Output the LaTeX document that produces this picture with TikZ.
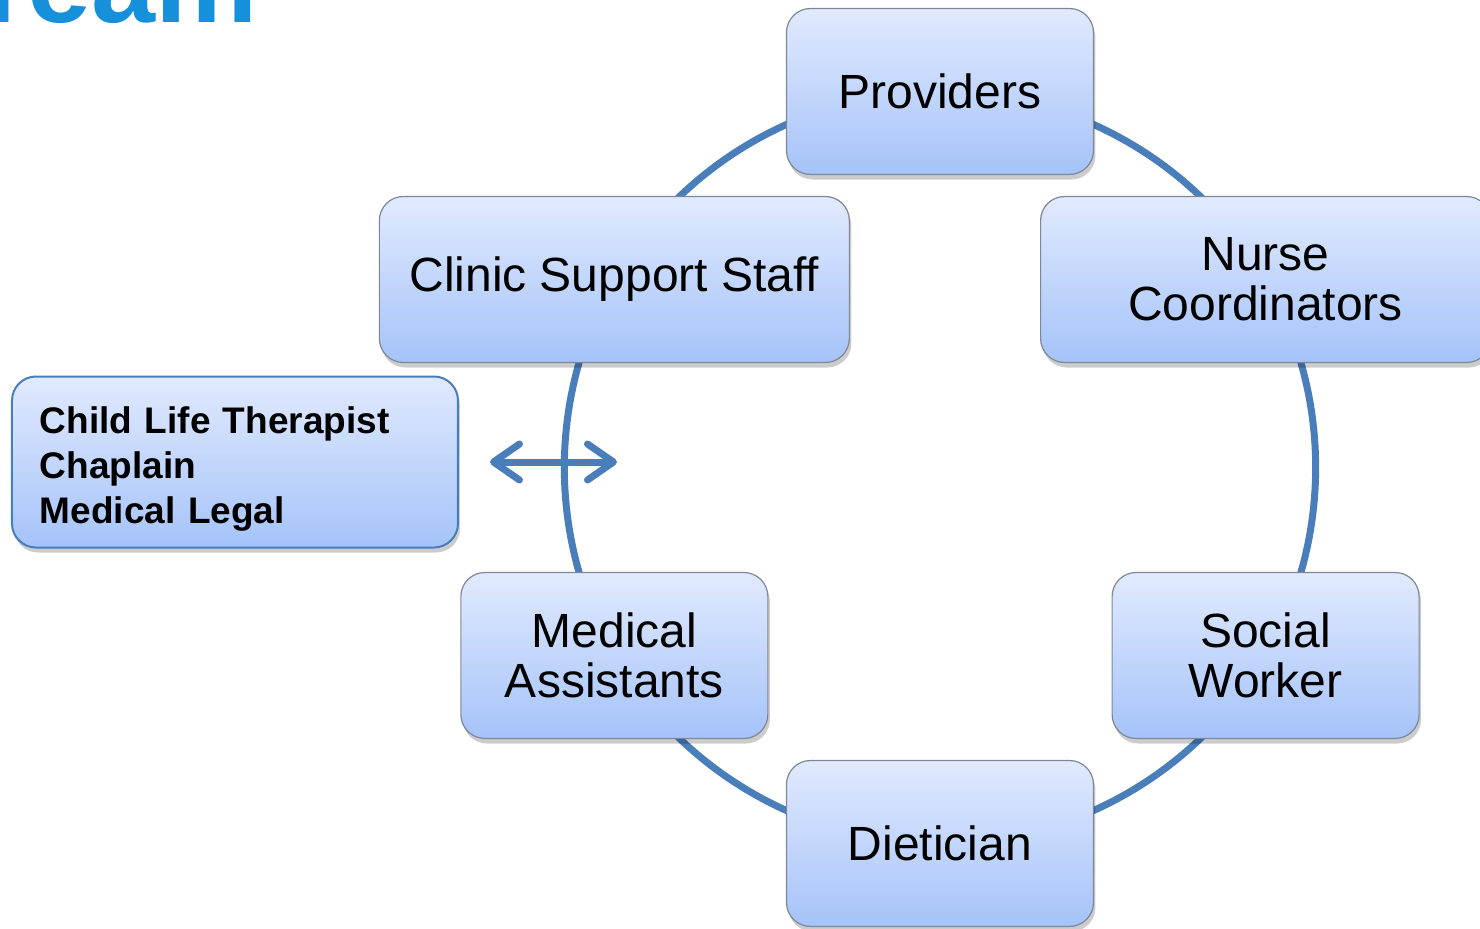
\documentclass[tikz,border=0pt]{standalone}
\usepackage{fontspec}
\setmainfont{Liberation Sans}
\usepackage{xcolor}
\usepackage{tikz}
\usetikzlibrary{positioning, arrows.meta, shadows, backgrounds}
\definecolor{ringblue}{HTML}{4A7EBB}
\definecolor{titleblue}{HTML}{1690DB}
\definecolor{boxtop}{HTML}{E1EAFE}
\definecolor{boxbottom}{HTML}{A5C3F9}
\definecolor{boxline}{HTML}{7F8796}

\tikzset{
  role/.style={rounded corners=12pt, draw=boxline, line width=0.6pt,
    top color=boxtop, bottom color=boxbottom,
    minimum width=153.5pt, minimum height=83pt, inner sep=0pt, outer sep=0pt,
    align=center, font=\fontsize{24}{25}\selectfont,
    drop shadow={shadow xshift=1pt, shadow yshift=-2.5pt, fill=black, opacity=0.2}},
  ring/.style={draw=ringblue, line width=3.5pt},
  link/.style={draw=ringblue, line width=3.5pt, line cap=round,
    >={Straight Barb[length=13pt, width=18pt, round]}, <->}
}

\begin{document}
\begin{tikzpicture}
  \useasboundingbox (-470pt,-230.25pt) rectangle (270pt,233.75pt);
  \clip (-470pt,-230.25pt) rectangle (270pt,233.75pt);

  \node[anchor=base east, inner sep=0pt, text=titleblue,
        font=\bfseries\fontsize{57.5}{60}\selectfont] (title) at (-341pt,222.75pt) {Team};

  % the care team, spaced round the ring
  \node[role] (prov) at (90:188pt) {Providers};
  \node[role, minimum width=235pt] (clinic) at (150:188pt) {Clinic Support Staff};
  \node[role, minimum width=225pt] (nurse) at (30:188pt) {Nurse\\Coordinators};
  \node[role] (medic) at (210:188pt) {Medical\\Assistants};
  \node[role] (social) at (330:188pt) {Social\\Worker};
  \node[role] (diet) at (270:188pt) {Dietician};

  \node[role, draw=ringblue, line width=1pt, minimum width=223pt, minimum height=85.5pt,
        align=left, text width=195pt, font=\bfseries\fontsize{18.5}{22.5}\selectfont]
        (extra) at (-352.5pt,2.75pt) {\rule{0pt}{20pt}Child Life Therapist\\Chaplain\\Medical Legal};

  \begin{scope}[on background layer]
    \foreach \from/\to in {prov/clinic, clinic/medic, medic/diet, diet/social, social/nurse, nurse/prov}
      \draw[ring] (\from.center) to[bend right=30, looseness=0.91] (\to.center);
  \end{scope}

  \coordinate[right=79.5pt of extra.east] (reach);
  \draw[link] ([xshift=16pt]extra.east) -- (reach);
\end{tikzpicture}
\end{document}
